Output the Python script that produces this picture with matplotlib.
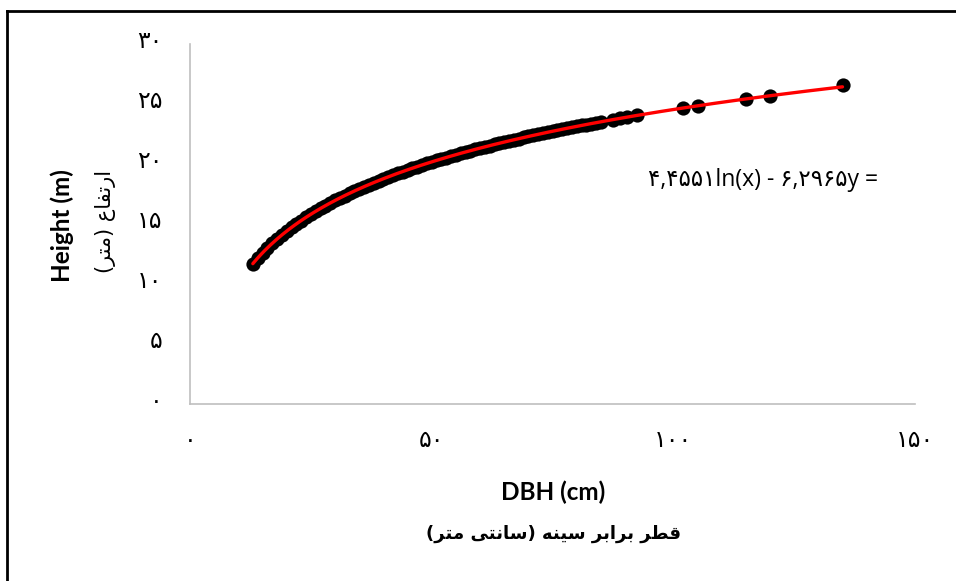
import matplotlib
matplotlib.use("Agg")
import matplotlib.pyplot as plt
from matplotlib.lines import Line2D
import matplotlib.transforms as mtransforms
import numpy as np

# ---- data ----
dbh = [13, 14, 15, 16, 17, 18, 19, 20, 21, 22, 23, 24, 25, 26, 27, 28, 29, 30,
       31, 32, 33, 34, 35, 36, 37, 38, 39, 40, 41, 42, 43, 44, 45, 46, 47, 48,
       49, 50, 51, 52, 53, 54, 55, 56, 57, 58, 59, 60, 61, 62, 63, 64, 65, 66,
       67, 68, 69, 70, 71, 72, 73, 74, 75, 76, 77, 78, 79, 80, 81, 82, 83, 84,
       85, 87.5, 89, 90.5, 92.5, 102, 105, 115, 120, 135]
height = [11.70, 12.16, 12.60, 13.00, 13.38, 13.74, 14.08, 14.41, 14.71, 15.01,
          15.29, 15.56, 15.81, 16.06, 16.30, 16.53, 16.75, 16.96, 17.17, 17.37,
          17.56, 17.75, 17.93, 18.11, 18.28, 18.45, 18.61, 18.77, 18.93, 19.08,
          19.23, 19.37, 19.51, 19.65, 19.79, 19.92, 20.05, 20.18, 20.30, 20.42,
          20.54, 20.66, 20.78, 20.89, 21.00, 21.11, 21.22, 21.33, 21.43, 21.53,
          21.63, 21.73, 21.83, 21.93, 22.02, 22.11, 22.21, 22.30, 22.39, 22.47,
          22.56, 22.65, 22.73, 22.81, 22.90, 22.98, 23.06, 23.14, 23.22, 23.29,
          23.37, 23.44, 23.52, 23.70, 23.81, 23.91, 24.05, 24.67, 24.85, 25.42,
          25.69, 26.55]
coef_a = 6.2965   # trendline slope on ln(x)
coef_b = -4.4551  # trendline intercept

x_ticks = [0, 50, 100, 150]
x_tick_labels = ["\u06f0", "\u06f5\u06f0", "\u06f1\u06f0\u06f0", "\u06f1\u06f5\u06f0"]
y_ticks = [0, 5, 10, 15, 20, 25, 30]
y_tick_labels = ["\u06f0", "\u06f5", "\u06f1\u06f0", "\u06f1\u06f5", "\u06f2\u06f0",
                 "\u06f2\u06f5", "\u06f3\u06f0"]

eq_text = ("\u06f4,\u06f4\u06f5\u06f5\u06f1ln(x) - "
           "\u06f6,\u06f2\u06f9\u06f6\u06f5y =")
x_title_en = "DBH (cm)"
# visual-order, pre-shaped Persian: "قطر برابر سینه (سانتی متر)"
x_title_fa = ("(" + "\ufeae\ufe98\ufee3" + " " + "\ufef0\ufe98\ufee7\ufe8e\ufeb3" + ")"
              + " " + "\ufeea\ufee8\ufef4\ufeb3" + " " + "\ufeae\ufe91\ufe8d\ufeae\ufe91"
              + " " + "\ufeae\ufec4\ufed7")
y_title_en = "Height (m)"
# visual-order, pre-shaped Persian: "ارتفاع (متر)"
y_title_fa = ("(" + "\ufeae\ufe98\ufee3" + ")" + " "
              + "\ufec9\ufe8e\ufed4\ufe97\ufead\ufe8d")

W, H = 956, 581
fig = plt.figure(figsize=(W / 100, H / 100), dpi=100)
fig.patch.set_facecolor("white")
ax = fig.add_axes([190 / W, 1 - 404 / H, (915 - 190) / W, (404 - 44) / H])

ax.scatter(dbh, height, s=105, color="black", zorder=2, linewidths=0)
xs = np.linspace(min(dbh), max(dbh), 300)
ax.plot(xs, coef_a * np.log(xs) + coef_b, color="#FF0000", lw=2.4, zorder=3,
        solid_capstyle="round")

ax.set_xlim(0, 150)
ax.set_ylim(0, 30)
ax.set_xticks(x_ticks)
ax.set_xticklabels(x_tick_labels, family=["DejaVu Sans"], fontsize=17)
ax.set_yticks(y_ticks)
ax.set_yticklabels(y_tick_labels, family=["DejaVu Sans"], fontsize=17)
ax.tick_params(axis="both", length=0, colors="black")
ax.tick_params(axis="x", pad=17)
ax.tick_params(axis="y", pad=20)
shift = mtransforms.ScaledTranslation(0, 4.3 / 72, fig.dpi_scale_trans)
for lab in ax.get_yticklabels():
    lab.set_transform(lab.get_transform() + shift)
for s in ("top", "right"):
    ax.spines[s].set_visible(False)
for s in ("left", "bottom"):
    ax.spines[s].set_color("#BFBFBF")
    ax.spines[s].set_linewidth(1.2)

fig.text(763 / W, 1 - 180 / H, eq_text, ha="center", va="center",
         family=["Open Sans", "DejaVu Sans"], fontsize=16.5)

fig.text(553 / W, 1 - 492 / H, x_title_en, ha="center", va="center",
         family=["Lato", "DejaVu Sans"], fontweight="bold", fontsize=17.5)
fig.text(553 / W, 1 - 534 / H, x_title_fa, ha="center", va="center",
         family=["DejaVu Sans"], fontweight="bold", fontsize=13)
fig.text(62 / W, 1 - 226 / H, y_title_en, ha="center", va="center", rotation=90,
         family=["Lato", "DejaVu Sans"], fontweight="bold", fontsize=17.5)
fig.text(105 / W, 1 - 221 / H, y_title_fa, ha="center", va="center", rotation=90,
         family=["DejaVu Sans"], fontsize=15)

# chart border (left & top visible)
fig.add_artist(Line2D([7 / W, 7 / W], [0, 1 - 11 / H], color="black", lw=2,
                      transform=fig.transFigure))
fig.add_artist(Line2D([7 / W, 1], [1 - 11 / H, 1 - 11 / H], color="black", lw=2,
                      transform=fig.transFigure))

fig.savefig("out.png", dpi=100)
